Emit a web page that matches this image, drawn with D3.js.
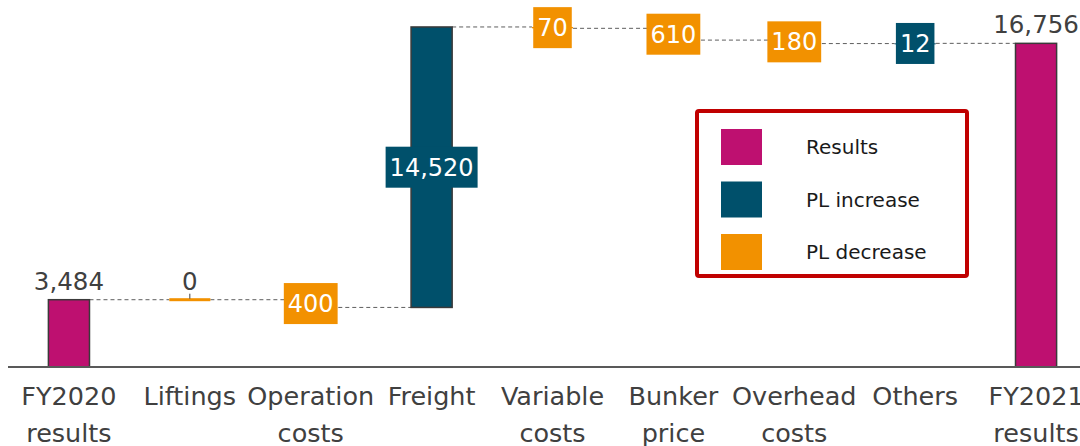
<!DOCTYPE html>
<html>
<head>
<meta charset="utf-8">
<script src="https://cdn.jsdelivr.net/npm/d3@7"></script>
<style>
  body { margin: 0; background: #fff; }
  svg { display: block; font-family: "DejaVu Sans", Verdana, sans-serif; }
</style>
</head>
<body>
<div id="chart"></div>
<script>
// waterfall data
const categories = ["FY2020 results", "Liftings", "Operation costs", "Freight", "Variable costs",
                    "Bunker price", "Overhead costs", "Others", "FY2021 results"];
const labelLines = [["FY2020", "results"], ["Liftings"], ["Operation", "costs"], ["Freight"],
                    ["Variable", "costs"], ["Bunker", "price"], ["Overhead", "costs"], ["Others"], ["FY2021", "results"]];
const deltas = [3484, 0, -400, 14520, -70, -610, -180, 12, 16756];
const kinds = ["total", "dec", "dec", "inc", "dec", "dec", "dec", "inc", "total"];

const legendNames = ["Results", "PL increase", "PL decrease"];
const legendKeys = ["total", "inc", "dec"];

const colors = {total: "#BE1070", inc: "#00506B", dec: "#F29100"};

const width = 1080, height = 446;
const baseY = 367;

const svg = d3.select("#chart").append("svg")
    .attr("width", width)
    .attr("height", height);

const x = d3.scaleBand()
    .domain(categories)
    .range([8.5, 1096.5])
    .paddingInner(0.66)
    .paddingOuter(0.33);

const y = d3.scaleLinear()
    .domain([0, 19000])
    .range([baseY, 0]);

// build start/end levels
let running = 0;
const bars = categories.map((c, i) => {
    let start, end;
    if (kinds[i] == "total") {
        start = 0; end = deltas[i]; running = deltas[i];
    } else {
        start = running; end = running + deltas[i]; running = end;
    }
    return {cat: c, start: start, end: end, kind: kinds[i], value: deltas[i], lines: labelLines[i]};
});

// connector lines
for (let i = 0; i < bars.length - 1; i++) {
    let level = bars[i].end;
    svg.append("line")
        .attr("x1", x(bars[i].cat) + x.bandwidth())
        .attr("x2", x(bars[i + 1].cat))
        .attr("y1", y(level))
        .attr("y2", y(level))
        .attr("stroke", "#5e5e5e")
        .attr("stroke-width", 1)
        .attr("stroke-dasharray", "4,3");
}

// bars
bars.forEach(d => {
    let top = y(Math.max(d.start, d.end));
    let bot = y(Math.min(d.start, d.end));
    if (d.value == 0) {
        svg.append("rect")
            .attr("x", x(d.cat))
            .attr("y", top - 1.5)
            .attr("width", x.bandwidth())
            .attr("height", 3)
            .attr("fill", colors[d.kind]);
        svg.append("line")
            .attr("x1", x(d.cat) + x.bandwidth() / 2)
            .attr("x2", x(d.cat) + x.bandwidth() / 2)
            .attr("y1", top - 6)
            .attr("y2", top - 1)
            .attr("stroke", "#404040");
        return;
    }
    let r = svg.append("rect")
        .attr("x", x(d.cat))
        .attr("y", top)
        .attr("width", x.bandwidth())
        .attr("height", Math.max(bot - top, 1))
        .attr("fill", colors[d.kind]);
    if (d.kind == "total" || d.kind == "inc" && bot - top > 20) {
        r.attr("stroke", "#3a3a3a").attr("stroke-width", 1.5);
    }
});

// axis line
svg.append("line")
    .attr("x1", 8).attr("x2", width)
    .attr("y1", baseY).attr("y2", baseY)
    .attr("stroke", "#595959")
    .attr("stroke-width", 2);

// value labels
const fmt = d3.format(",");
bars.forEach(d => {
    let cx = x(d.cat) + x.bandwidth() / 2;
    if (d.kind == "total" || d.value == 0) {
        svg.append("text")
            .attr("x", cx)
            .attr("y", y(Math.max(d.start, d.end)) - 10)
            .attr("text-anchor", "middle")
            .attr("font-size", 24.5)
            .attr("fill", "#404040")
            .text(fmt(Math.abs(d.value)));
        return;
    }
    let cy = (y(d.start) + y(d.end)) / 2;
    let g = svg.append("g");
    let t = g.append("text")
        .attr("x", cx)
        .attr("y", cy)
        .attr("dy", "0.36em")
        .attr("text-anchor", "middle")
        .attr("font-size", 24)
        .attr("fill", "#fff")
        .text(fmt(Math.abs(d.value)));
    let bb = t.node().getBBox();
    g.insert("rect", "text")
        .attr("x", cx - bb.width / 2 - 4)
        .attr("y", cy - 20.5)
        .attr("width", bb.width + 8)
        .attr("height", 41)
        .attr("fill", colors[d.kind]);
});

// category labels
bars.forEach(d => {
    let t = svg.append("text")
        .attr("x", x(d.cat) + x.bandwidth() / 2)
        .attr("y", 405)
        .attr("text-anchor", "middle")
        .attr("font-size", 25.5)
        .attr("fill", "#404040");
    d.lines.forEach((ln, j) => {
        t.append("tspan")
            .attr("x", x(d.cat) + x.bandwidth() / 2)
            .attr("dy", j == 0 ? 0 : 37)
            .text(ln);
    });
});

// legend
const lg = svg.append("g");
lg.append("rect")
    .attr("x", 697).attr("y", 111)
    .attr("width", 270).attr("height", 165)
    .attr("rx", 2)
    .attr("fill", "#fff")
    .attr("stroke", "#C00000")
    .attr("stroke-width", 4);
const legendY = d3.scalePoint().domain(legendKeys).range([147, 252]);
legendKeys.forEach((k, i) => {
    lg.append("rect")
        .attr("x", 721)
        .attr("y", legendY(k) - 18)
        .attr("width", 41)
        .attr("height", 36)
        .attr("fill", colors[k]);
    lg.append("text")
        .attr("x", 806)
        .attr("y", legendY(k))
        .attr("dy", "0.36em")
        .attr("font-size", 20)
        .attr("fill", "#1a1a1a")
        .text(legendNames[i]);
});
</script>
</body>
</html>
